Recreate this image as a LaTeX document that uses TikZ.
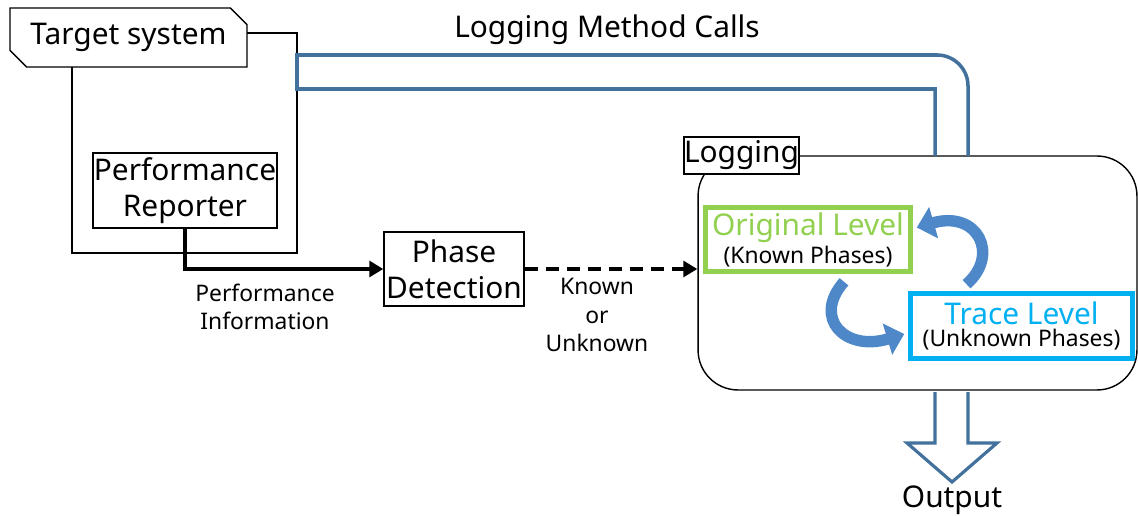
\documentclass[tikz,border=0pt]{standalone}
\usepackage{fontspec}
\setmainfont{Noto Sans}
\usepackage{xcolor}
\usetikzlibrary{calc,arrows.meta,shapes.misc}
\definecolor{pipeblue}{RGB}{65,113,156}
\definecolor{turnblue}{RGB}{78,136,200}
\definecolor{origgreen}{RGB}{146,208,80}
\definecolor{tracecyan}{RGB}{0,176,240}
\newcommand\bigtxt{\fontsize{17}{20.5}\selectfont}
\newcommand\smalltxt{\fontsize{13}{16}\selectfont}

\begin{document}
\begin{tikzpicture}[x=0.02cm,y=-0.02cm,
  big/.style={font=\bigtxt},
  small/.style={font=\smalltxt},
  box/.style={draw,line width=0.8pt,fill=white,inner sep=0pt,align=center,big},
  level/.style={draw,line width=2.6pt,fill=white,inner sep=0pt,align=center},
  flow/.style={line width=2.3pt,-{Triangle[length=8pt,width=9pt]}},
  turn/.style={turnblue,line width=6.5pt,-{Triangle[length=10pt,width=18pt]}},
  pipe/.style={pipeblue,line width=2pt}]
  \useasboundingbox (0,0) rectangle (1138,516);
  \draw[line width=0.8pt] (72,33) rectangle (297,253);
  \node[box,chamfered rectangle,chamfered rectangle corners={north east,south west},
    chamfered rectangle xsep=0.15cm,chamfered rectangle ysep=0.18cm,
    minimum width=4.74cm,minimum height=1.18cm] (tgt) at (128.5,37.5) {Target system};
  \node[box,minimum width=3.68cm,minimum height=1.5cm] (perf) at (185,190.5) {Performance\\Reporter};
  \node[box,minimum width=2.8cm,minimum height=1.48cm] (phase) at (454,269) {Phase\\Detection};
  \node[draw,line width=0.8pt,rounded corners=0.8cm,minimum width=8.78cm,minimum height=4.68cm] (logarea) at (917.5,273) {};
  \node[box,minimum width=2.26cm,minimum height=0.74cm] (logging) at (741.5,155.5) {Logging};
  \draw[pipe] (935,156) -- (935,89) -- (297,89) -- (297,55) -- (937,55)
    arc[start angle=-90,end angle=0,radius=31] -- (968,156);
  \node[big] (calls) at (607,30) {Logging Method Calls};
  \node[level,draw=origgreen,minimum width=4.1cm,minimum height=1.28cm] (orig) at (808,239.5)
    {{\bigtxt\color{origgreen}Original Level}\\[1pt]{\smalltxt (Known Phases)}};
  \node[level,draw=tracecyan,minimum width=4.44cm,minimum height=1.3cm] (trace) at (1021.5,326)
    {{\bigtxt\color{tracecyan}Trace Level}\\[1pt]{\smalltxt (Unknown Phases)}};
  \draw[flow] (perf.south) |- (phase.west);
  \draw[flow,dash pattern=on 7.5pt off 4.5pt] (phase.east) -- (phase.east -| logarea.west);
  \node[small,align=center] (perfinfo) at (265,307) {Performance\\Information};
  \node[small,align=center] (known) at (597,315) {Known\\or\\Unknown};
  \draw[turn] ($(trace.north)+(-55,-7)$) .. controls (1000,255) and (978,210) .. ($(orig.east)+(4,-12)$);
  \draw[turn] ($(orig.south)+(36,8)$) .. controls (812,318) and (845,352) .. ($(trace.west)+(-4,8)$);
  \draw[pipe,line width=1.8pt,fill=white] (935,392) -- (935,443) -- (907,443) -- (952,482)
    -- (997,443) -- (968,443) -- (968,392);
  \node[big] (output) at (952,500) {Output};
\end{tikzpicture}
\end{document}
